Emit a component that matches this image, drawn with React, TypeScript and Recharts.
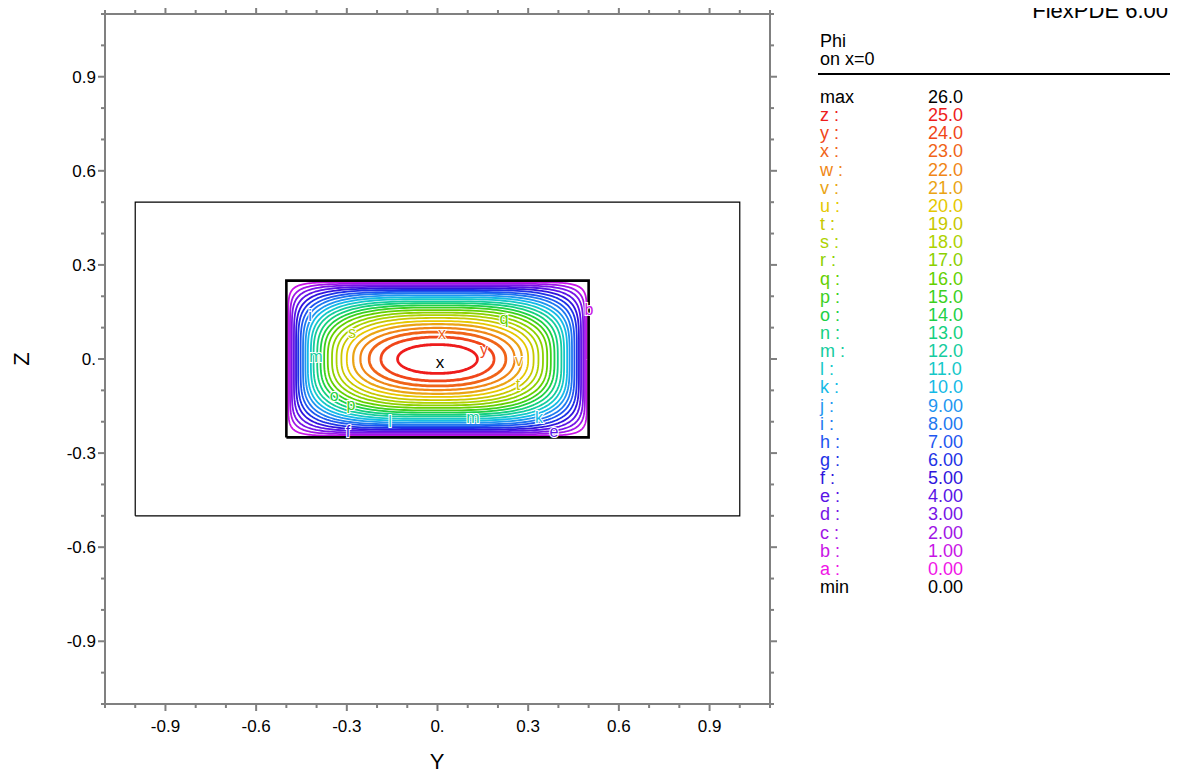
import { ComposedChart, Line, Scatter, XAxis, YAxis } from 'recharts'

const FONT = '"Liberation Sans", Arial, sans-serif'

// axis ticks (every 0.1, labels on multiples of 0.3)
const tickValues = [-1.1, -1.0, -0.9, -0.8, -0.7, -0.6, -0.5, -0.4, -0.3, -0.2, -0.1, 0, 0.1, 0.2, 0.3, 0.4, 0.5, 0.6, 0.7, 0.8, 0.9, 1.0, 1.1]

// contour levels b..z (Phi = 1..25), extents
const levelLetters = ['b', 'c', 'd', 'e', 'f', 'g', 'h', 'i', 'j', 'k', 'l', 'm', 'n', 'o', 'p', 'q', 'r', 's', 't', 'u', 'v', 'w', 'x', 'y', 'z']
const halfWidth = [0.494, 0.488, 0.482, 0.475, 0.468, 0.461, 0.453, 0.445, 0.437, 0.429, 0.419, 0.410, 0.398, 0.387, 0.375, 0.363, 0.349, 0.334, 0.318, 0.300, 0.279, 0.255, 0.226, 0.187, 0.132]
const halfHeight = [0.245, 0.240, 0.235, 0.230, 0.225, 0.220, 0.214, 0.209, 0.203, 0.197, 0.191, 0.184, 0.178, 0.171, 0.164, 0.156, 0.148, 0.140, 0.131, 0.121, 0.111, 0.099, 0.086, 0.070, 0.046]
const squareness = [12, 9, 7.5, 6.4, 5.6, 5.0, 4.6, 4.3, 4.0, 3.8, 3.6, 3.45, 3.3, 3.15, 3.05, 2.95, 2.8, 2.7, 2.6, 2.5, 2.4, 2.3, 2.2, 2.15, 2.1]

// legend
const legendLetters = ['z', 'y', 'x', 'w', 'v', 'u', 't', 's', 'r', 'q', 'p', 'o', 'n', 'm', 'l', 'k', 'j', 'i', 'h', 'g', 'f', 'e', 'd', 'c', 'b', 'a']
const legendValues = ['25.0', '24.0', '23.0', '22.0', '21.0', '20.0', '19.0', '18.0', '17.0', '16.0', '15.0', '14.0', '13.0', '12.0', '11.0', '10.0', '9.00', '8.00', '7.00', '6.00', '5.00', '4.00', '3.00', '2.00', '1.00', '0.00']
const legendColors = ['#ee1c1c', '#f0461a', '#f06418', '#f08616', '#eaa414', '#e6c800', '#c8c800', '#aed200', '#8cd000', '#64d000', '#3cd01e', '#1ed046', '#14d080', '#14cc9e', '#14c8c8', '#14bae6', '#1e96f0', '#1e78f0', '#1e56f0', '#1e32e6', '#3014dc', '#5a14e6', '#7814e6', '#a014e6', '#c814e6', '#f014e6']

// contour labels on the plot
const labelY = [0.015, 0.154, 0.270, 0.266, -0.283, -0.402, -0.342, -0.286, -0.157, 0.117, 0.336, 0.385, 0.220, 0.501, -0.422, -0.296]
const labelZ = [0.080, 0.029, -0.006, -0.083, 0.083, 0.006, -0.118, -0.147, -0.201, -0.188, -0.188, -0.233, 0.128, 0.156, 0.137, -0.233]
const labelText = ['x', 'y', 'v', 't', 's', 'm', 'o', 'p', 'l', 'm', 'k', 'e', 'q', 'b', 'i', 'f']

const outerBox = [{ px: -1, pz: -0.5 }, { px: 1, pz: -0.5 }, { px: 1, pz: 0.5 }, { px: -1, pz: 0.5 }, { px: -1, pz: -0.5 }]
const innerBox = [{ px: -0.5, pz: -0.25 }, { px: 0.5, pz: -0.25 }, { px: 0.5, pz: 0.25 }, { px: -0.5, pz: 0.25 }, { px: -0.5, pz: -0.25 }]

const colorOf = (letter: string) => legendColors[legendLetters.indexOf(letter)]

function loop(a: number, b: number, p: number) {
  const pts = []
  const n = 200
  for (let i = 0; i <= n; i++) {
    const t = (i / n) * 2 * Math.PI
    const c = Math.cos(t), s = Math.sin(t)
    pts.push({ px: a * Math.sign(c) * Math.pow(Math.abs(c), 2 / p), pz: b * Math.sign(s) * Math.pow(Math.abs(s), 2 / p) })
  }
  return pts
}

const contours = levelLetters.map((l, i) => ({ letter: l, data: loop(halfWidth[i], halfHeight[i], squareness[i]) }))
const labels = labelText.map((t, i) => ({ px: labelY[i], pz: labelZ[i], t }))
const maxMark = [{ px: 0.008, pz: -0.01, t: 'x' }]

const isMajor = (v: number) => {
  const n = Math.round(v * 10)
  return n % 3 === 0 && Math.abs(n) <= 9
}
const fmt = (v: number) => (Math.abs(v) < 1e-9 ? '0.' : v.toFixed(1))

const Tick = ({ x, y, payload, side }: any) => {
  const v = payload.value
  const major = isMajor(v)
  const len = major ? 7 : 4
  const st = { stroke: '#808080', strokeWidth: 2 }
  if (side === 'bottom') return (
    <g>
      <line x1={x} y1={y} x2={x} y2={y + len} {...st} />
      {major && <text x={x} y={y + 28} textAnchor="middle" fontSize={17} fontFamily={FONT} fill="#000">{fmt(v)}</text>}
    </g>
  )
  if (side === 'top') return <line x1={x} y1={y} x2={x} y2={y - len} {...st} />
  if (side === 'left') return (
    <g>
      <line x1={x} y1={y} x2={x - len} y2={y} {...st} />
      {major && <text x={x - 9} y={y + 6} textAnchor="end" fontSize={17} fontFamily={FONT} fill="#000">{fmt(v)}</text>}
    </g>
  )
  return <line x1={x} y1={y} x2={x + len} y2={y} {...st} />
}

const LabelShape = (props: any) => {
  const { cx, cy, payload } = props
  return (
    <text x={cx} y={cy + 5} textAnchor="middle" fontSize={16} fontFamily={FONT}
      fill={colorOf(payload.t)} stroke="#fff" strokeWidth={2} paintOrder="stroke">{payload.t}</text>
  )
}
const MaxShape = (props: any) => (
  <text x={props.cx} y={props.cy + 6} textAnchor="middle" fontSize={17} fontFamily={FONT} fill="#000">x</text>
)

const axisLine = { stroke: '#808080', strokeWidth: 2 }

export default function App() {
  return (
    <div style={{ position: 'relative', left: -8, top: -8, width: 1180, height: 774, fontFamily: FONT, background: '#fff', overflow: 'hidden' }}>
      <div style={{ position: 'absolute', left: 0, top: 0 }}>
        <ComposedChart width={1180} height={774} margin={{ top: 0, right: 0, bottom: 0, left: 0 }}>
          <XAxis xAxisId="b" type="number" dataKey="px" domain={[-1.1, 1.1]} ticks={tickValues} interval={0} allowDataOverflow
            orientation="bottom" height={70} tickSize={0} tickMargin={0} tickLine={false} axisLine={axisLine}
            tick={(p: any) => <Tick {...p} side="bottom" />} />
          <XAxis xAxisId="t" type="number" dataKey="px" domain={[-1.1, 1.1]} ticks={tickValues} interval={0} allowDataOverflow
            orientation="top" height={14} tickSize={0} tickMargin={0} tickLine={false} axisLine={axisLine}
            tick={(p: any) => <Tick {...p} side="top" />} />
          <YAxis yAxisId="l" type="number" dataKey="pz" domain={[-1.1, 1.1]} ticks={tickValues} interval={0} allowDataOverflow
            orientation="left" width={105} tickSize={0} tickMargin={0} tickLine={false} axisLine={axisLine}
            tick={(p: any) => <Tick {...p} side="left" />} />
          <YAxis yAxisId="r" type="number" dataKey="pz" domain={[-1.1, 1.1]} ticks={tickValues} interval={0} allowDataOverflow
            orientation="right" width={410} tickSize={0} tickMargin={0} tickLine={false} axisLine={axisLine}
            tick={(p: any) => <Tick {...p} side="right" />} />

          <Line xAxisId="t" yAxisId="r" data={outerBox} dataKey="pz" type="linear" stroke="#000" strokeWidth={1.2} dot={false} isAnimationActive={false} />
          {contours.map((c, i) => (
            <Line key={c.letter} xAxisId="b" yAxisId="l" data={c.data} dataKey="pz" type="linear"
              stroke={colorOf(c.letter)} strokeWidth={i >= 22 ? 2.8 : i >= 20 ? 2.2 : 1.8}
              dot={false} isAnimationActive={false} />
          ))}
          <Line xAxisId="b" yAxisId="l" data={innerBox} dataKey="pz" type="linear" stroke="#000" strokeWidth={2.6} dot={false} isAnimationActive={false} />
          <Scatter xAxisId="b" yAxisId="l" data={labels} dataKey="pz" shape={LabelShape} isAnimationActive={false} />
          <Scatter xAxisId="b" yAxisId="l" data={maxMark} dataKey="pz" shape={MaxShape} isAnimationActive={false} />
        </ComposedChart>
      </div>

      <div style={{ position: 'absolute', left: 437, top: 750, transform: 'translateX(-50%)', fontSize: 22, lineHeight: '24px' }}>Y</div>
      <div style={{ position: 'absolute', left: 22, top: 359, transform: 'translate(-50%, -50%) rotate(-90deg)', fontSize: 22, lineHeight: '24px' }}>Z</div>
      <div style={{ position: 'absolute', right: 12, top: -1, fontSize: 22, lineHeight: '24px' }}>FlexPDE 6.00</div>

      <div style={{ position: 'absolute', left: 820, top: 32, fontSize: 18, lineHeight: '18px' }}>Phi<br />on x=0</div>
      <div style={{ position: 'absolute', left: 818, top: 73, width: 352, height: 2, background: '#000' }} />
      <div style={{ position: 'absolute', left: 820, top: 88, fontSize: 18, lineHeight: '18px' }}>max</div>
      <div style={{ position: 'absolute', left: 928, top: 88, fontSize: 18, lineHeight: '18px' }}>26.0</div>
      {legendLetters.map((l, i) => (
        <div key={l} style={{ position: 'absolute', top: 88 + (i + 1) * 18.15, left: 820, fontSize: 18, lineHeight: '18px', color: legendColors[i], width: 200 }}>
          <span>{l} :</span>
          <span style={{ position: 'absolute', left: 108 }}>{legendValues[i]}</span>
        </div>
      ))}
      <div style={{ position: 'absolute', left: 820, top: 88 + 27 * 18.15, fontSize: 18, lineHeight: '18px' }}>min</div>
      <div style={{ position: 'absolute', left: 928, top: 88 + 27 * 18.15, fontSize: 18, lineHeight: '18px' }}>0.00</div>
    </div>
  )
}
